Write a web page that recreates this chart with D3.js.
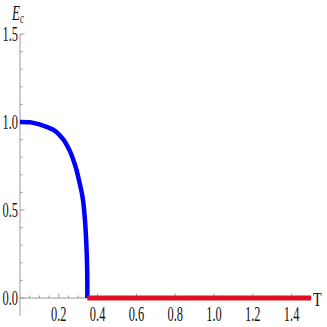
<!DOCTYPE html>
<html>
<head>
<meta charset="utf-8">
<script src="https://cdn.jsdelivr.net/npm/d3@7"></script>
<style>
html,body{margin:0;padding:0;background:#fff;}
svg{display:block;}
text{font-family:"Liberation Serif","Times New Roman",serif;fill:#111;}
</style>
</head>
<body>
<script>
// Data
const blueT = [0, 0.05, 0.08, 0.1, 0.13, 0.155, 0.18, 0.2, 0.22, 0.24, 0.255, 0.27, 0.289, 0.306, 0.318, 0.326, 0.332, 0.337, 0.341, 0.344, 0.346, 0.347, 0.347];
const blueE = [1, 0.998, 0.992, 0.986, 0.975, 0.964, 0.95, 0.93, 0.905, 0.872, 0.84, 0.8, 0.737, 0.66, 0.6, 0.545, 0.48, 0.41, 0.33, 0.25, 0.17, 0.08, 0];
const redT = [0.347, 1.5];
const redE = [0, 0];
const xMajorTicks = [0.2, 0.4, 0.6, 0.8, 1.0, 1.2, 1.4];
const xTickLabels = ["0.2", "0.4", "0.6", "0.8", "1.0", "1.2", "1.4"];
const yMajorTicks = [0, 0.5, 1.0, 1.5];
const yTickLabels = ["0.0", "0.5", "1.0", "1.5"];
const xMinorTicks = d3.range(1, 30).map(i => i * 0.05).filter(v => Math.abs(v * 5 - Math.round(v * 5)) > 1e-6);
const yMinorTicks = d3.range(1, 15).map(i => i * 0.1).filter(v => Math.abs(v * 2 - Math.round(v * 2)) > 1e-6);

const W = 327, H = 327;
const svg = d3.select("body").append("svg").attr("width", W).attr("height", H);

const x = d3.scaleLinear().domain([0, 1.5]).range([20, 311]);
const y = d3.scaleLinear().domain([0, 1.5]).range([298, 34]);

const axisColor = "#9a9a9a";
const g = svg.append("g");

// axes lines
g.append("line").attr("x1", x(0)).attr("x2", x(1.5) + 1).attr("y1", y(0)).attr("y2", y(0))
  .attr("stroke", axisColor).attr("stroke-width", 1);
g.append("line").attr("x1", x(0)).attr("x2", x(0)).attr("y1", y(1.5)).attr("y2", y(-0.1))
  .attr("stroke", axisColor).attr("stroke-width", 1);

// x ticks (pointing up)
g.selectAll(".xmaj").data(xMajorTicks).enter().append("line")
  .attr("x1", d => x(d)).attr("x2", d => x(d)).attr("y1", y(0)).attr("y2", y(0) - 4.5)
  .attr("stroke", axisColor);
g.selectAll(".xmin").data(xMinorTicks).enter().append("line")
  .attr("x1", d => x(d)).attr("x2", d => x(d)).attr("y1", y(0)).attr("y2", y(0) - 2.5)
  .attr("stroke", axisColor);
// y ticks (pointing right)
g.selectAll(".ymaj").data(yMajorTicks).enter().append("line")
  .attr("x1", x(0)).attr("x2", x(0) + 4.5).attr("y1", d => y(d)).attr("y2", d => y(d))
  .attr("stroke", axisColor);
g.selectAll(".ymin").data(yMinorTicks).enter().append("line")
  .attr("x1", x(0)).attr("x2", x(0) + 2.5).attr("y1", d => y(d)).attr("y2", d => y(d))
  .attr("stroke", axisColor);

// tick labels (condensed serif)
const sx = 0.62;
g.selectAll(".xlab").data(xMajorTicks).enter().append("text")
  .attr("transform", d => `translate(${x(d)},${y(0) + 23}) scale(${sx},1)`)
  .attr("text-anchor", "middle").attr("font-size", 20)
  .text((d, i) => xTickLabels[i]);
g.selectAll(".ylab").data(yMajorTicks).enter().append("text")
  .attr("transform", d => `translate(${x(0) - 2},${y(d) + 6.5}) scale(${sx},1)`)
  .attr("text-anchor", "end").attr("font-size", 20)
  .text((d, i) => yTickLabels[i]);

// axis labels
const ylab = g.append("text").attr("transform", `translate(12,20) scale(${sx},1)`)
  .attr("font-size", 21).attr("font-style", "italic");
ylab.append("tspan").text("E");
ylab.append("tspan").attr("font-size", 14).attr("dy", 3).text("c");
g.append("text").attr("transform", `translate(313,306) scale(0.75,1)`)
  .attr("font-size", 19).text("T");

// curves
const line = d3.line().x(d => x(d[0])).y(d => y(d[1])).curve(d3.curveCatmullRom.alpha(0.5));
svg.append("path").datum(blueT.map((t, i) => [t, blueE[i]]))
  .attr("d", line)
  .attr("fill", "none").attr("stroke", "#0000ff").attr("stroke-width", 4.5)
  .attr("stroke-linejoin", "round");
svg.append("path").datum(redT.map((t, i) => [t, redE[i]]))
  .attr("d", d3.line().x(d => x(d[0])).y(d => y(d[1])))
  .attr("fill", "none").attr("stroke", "#dd1126").attr("stroke-width", 5);
</script>
</body>
</html>
